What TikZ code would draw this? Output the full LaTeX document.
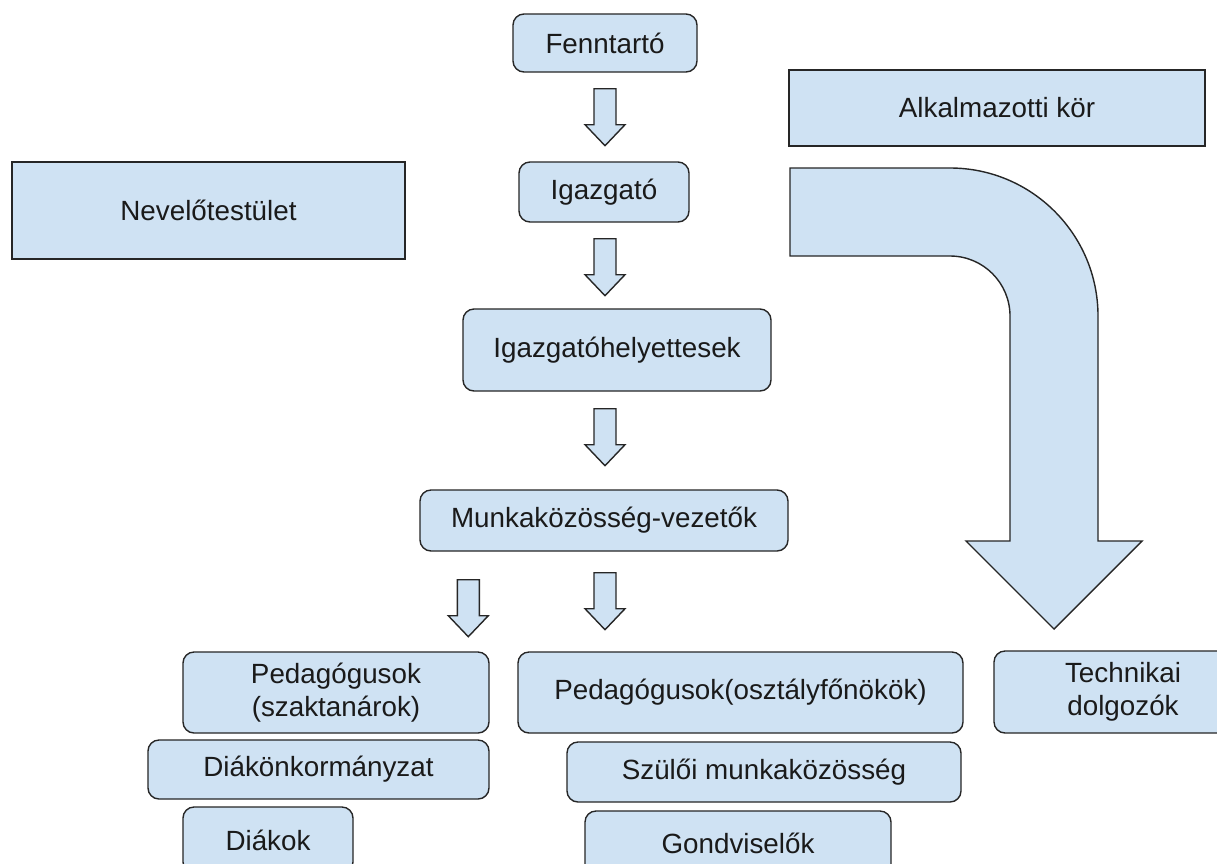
\documentclass[tikz,border=0pt]{standalone}
\usepackage{fontspec}
\setmainfont{Liberation Sans}
\usetikzlibrary{calc}
\definecolor{boxfill}{HTML}{CFE2F3}
\definecolor{boxline}{HTML}{262626}
\definecolor{txt}{HTML}{1A1A1A}
\begin{document}
\begin{tikzpicture}[x=1pt,y=-1pt,
  base/.style={draw=boxline, fill=boxfill, line width=1.4pt, text=txt,
    font=\fontsize{27.8}{33}\selectfont, align=center, inner sep=0pt, anchor=center},
  rbox/.style={base, rounded corners=11pt},
  sbox/.style={base},
  blk/.style={draw=boxline, fill=boxfill, line width=1.4pt, line join=miter},
  darr/.pic={\path[blk] (-11,0) -- (11,0) -- (11,36) -- (20,36) -- (0,57) -- (-20,36) -- (-11,36) -- cycle;}
]
\clip (0,0) rectangle (1217,863);
\fill[white] (0,0) rectangle (1217,863);

\node[rbox, minimum width=184pt, minimum height=58pt] (fen) at (605,43) {Fenntartó};
\node[rbox, minimum width=170pt, minimum height=60pt] (igaz) at (604,192) {Igazgató};
\node[sbox, minimum width=416pt, minimum height=76pt] (alk) at (997,108) {Alkalmazotti kör};
\node[sbox, minimum width=393pt, minimum height=97pt] (nev) at (208.5,210.5) {Nevelőtestület};
\node[rbox, minimum width=308pt, minimum height=82pt] (ih) at (617,350) {Igazgatóhelyettesek};
\node[rbox, minimum width=368pt, minimum height=61pt] (mkv) at (604,520.5) {Munkaközösség-vezetők};
\node[rbox, minimum width=306pt, minimum height=81pt] (pszak) at (336,692.5) {Pedagógusok\\(szaktanárok)};
\node[rbox, minimum width=445pt, minimum height=81pt] (posz) at (740.5,692.5) {Pedagógusok(osztályfőnökök)};
\node[rbox, minimum width=258pt, minimum height=82pt] (tech) at (1123,692) {Technikai\\dolgozók};
\node[rbox, minimum width=341pt, minimum height=59pt] (dok) at (318.5,769.5) {Diákönkormányzat};
\node[rbox, minimum width=394pt, minimum height=60pt] (szmk) at (764,772) {Szülői munkaközösség};
\node[rbox, minimum width=170pt, minimum height=66pt] (diak) at (268,840) {Diákok};
\node[rbox, minimum width=306pt, minimum height=64pt] (gond) at (738,843) {Gondviselők};

% small block arrows
\pic at ($(fen.south)+(0,16)$) {darr};
\pic at ($(igaz.south)+(1,16)$) {darr};
\pic at ($(ih.south)+(-12,17)$) {darr};
\pic at ($(mkv.south)+(1,21)$) {darr};
\pic at ($(mkv.south west)+(49,28)$) {darr};

% big bent arrow
\path[blk] (790,168) -- (950,168)
  .. controls (1031.7,168) and (1098,234.3) .. (1098,316)
  -- (1098,541) -- (1142,541) -- (1054,629) -- (966,541) -- (1010,541)
  -- (1010,316)
  .. controls (1010,282.9) and (983.1,256) .. (950,256)
  -- (790,256) -- cycle;
\end{tikzpicture}
\end{document}
